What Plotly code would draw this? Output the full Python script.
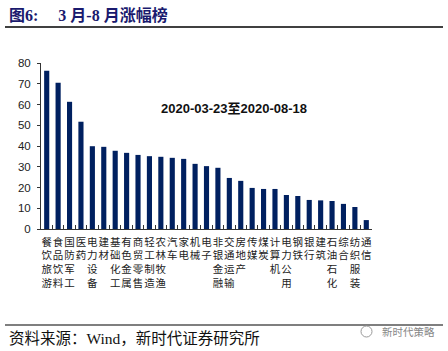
import plotly.graph_objects as go

categories = ["餐饮旅游", "食品饮料", "国防军工", "医药", "电力设备", "建材", "基础化工",
              "有色金属", "商贸零售", "轻工制造", "农林牧渔", "汽车", "家电", "机械",
              "电子", "非银金融", "交通运输", "房地产", "传媒", "煤炭", "计算机",
              "电力公用", "钢铁", "银行", "建筑", "石油石化", "综合", "纺织服装", "通信"]
values = [76.3, 70.5, 61.3, 51.7, 39.9, 39.6, 37.7, 36.7, 35.7, 35.1, 34.8, 34.3,
          33.8, 31.4, 30.3, 29.5, 24.6, 23.2, 19.8, 19.3, 19.3, 16.4, 15.9, 14.0,
          13.8, 13.5, 12.1, 10.6, 4.3]
y_ticks = [0, 10, 20, 30, 40, 50, 60, 70, 80]

tick_text = ["<br>".join(list(c)) for c in categories]

L, R, T, B = 41, 372, 63, 229
W, H = 448, 351


def px(x):
    return (x - L) / (R - L)


def py(y):
    return (B - y) / (B - T)


fig = go.Figure(go.Bar(x=categories, y=values, marker_color="#002060",
                       marker_line_width=0))

fig.update_layout(
    width=W, height=H,
    margin=dict(l=L, r=W - R, t=T, b=H - B),
    paper_bgcolor="white", plot_bgcolor="white",
    bargap=0.55, showlegend=False,
    xaxis=dict(tickmode="array", tickvals=categories, ticktext=tick_text,
               tickangle=0, showline=True, linecolor="#333", linewidth=1,
               ticks="inside", ticklen=4, tickcolor="#333", tickson="boundaries",
               ticklabelstandoff=3,
               showgrid=False, tickfont=dict(family="Noto Sans CJK SC", size=10.5, color="#222")),
    yaxis=dict(range=[0, 80], tickvals=y_ticks, showline=True, linecolor="#333",
               linewidth=1, ticks="outside", ticklen=3, tickcolor="#333",
               ticklabelstandoff=4,
               showgrid=False, zeroline=False,
               tickfont=dict(family="Liberation Sans", size=11.5, color="#222")),
    annotations=[
        dict(x=px(7), y=py(15), xref="paper", yref="paper", xanchor="left", yanchor="middle",
             text="<b>图6:     3 月-8 月涨幅榜</b>", showarrow=False,
             font=dict(family="Liberation Serif, Noto Sans CJK SC", size=16, color="#1a1a6e")),
        dict(x=px(234), y=py(108), xref="paper", yref="paper", xanchor="center", yanchor="middle",
             text="<b>2020-03-23至2020-08-18</b>", showarrow=False,
             font=dict(family="Liberation Sans, Noto Sans CJK SC", size=13, color="#111")),
        dict(x=px(7), y=py(338), xref="paper", yref="paper", xanchor="left", yanchor="middle",
             text="资料来源：Wind，新时代证券研究所", showarrow=False,
             font=dict(family="Liberation Serif, Noto Sans CJK SC", size=15.5, color="#111")),
        dict(x=px(380), y=py(331), xref="paper", yref="paper", xanchor="left", yanchor="middle",
             text="新时代策略", showarrow=False,
             font=dict(family="Noto Sans CJK SC", size=10.5, color="#888")),
    ],
    shapes=[
        dict(type="line", xref="paper", yref="paper", x0=px(5), x1=px(443), y0=py(27), y1=py(27),
             line=dict(color="black", width=1.5)),
        dict(type="line", xref="paper", yref="paper", x0=px(5), x1=px(443), y0=py(325), y1=py(325),
             line=dict(color="black", width=1.2)),
        dict(type="circle", xref="paper", yref="paper", x0=px(361), x1=px(372), y0=py(337), y1=py(326),
             line=dict(color="#999", width=1)),
    ],
)

fig.write_html("out.html")
